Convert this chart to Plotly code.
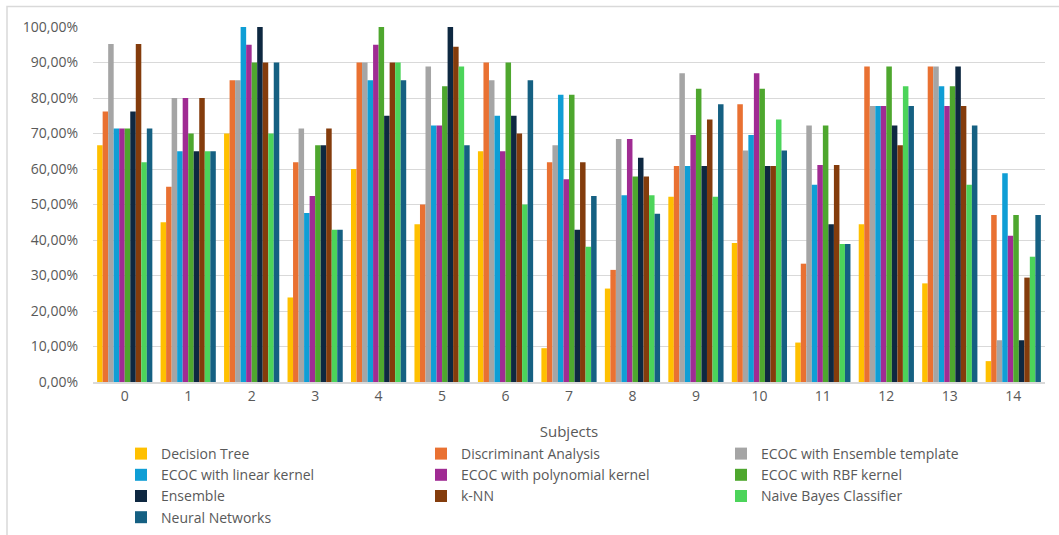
import plotly.graph_objects as go

subjects = [str(i) for i in range(15)]

decision_tree = [66.67, 45, 70, 23.81, 60, 44.44, 65, 9.52, 26.32, 52.17, 39.13, 11.11, 44.44, 27.78, 5.88]
discriminant = [76.19, 55, 85, 61.90, 90, 50, 90, 61.90, 31.58, 60.87, 78.26, 33.33, 88.89, 88.89, 47.06]
ecoc_ensemble = [95.24, 80, 85, 71.43, 90, 88.89, 85, 66.67, 68.42, 86.96, 65.22, 72.22, 77.78, 88.89, 11.76]
ecoc_linear = [71.43, 65, 100, 47.62, 85, 72.22, 75, 80.95, 52.63, 60.87, 69.57, 55.56, 77.78, 83.33, 58.82]
ecoc_poly = [71.43, 80, 95, 52.38, 95, 72.22, 65, 57.14, 68.42, 69.57, 86.96, 61.11, 77.78, 77.78, 41.18]
ecoc_rbf = [71.43, 70, 90, 66.67, 100, 83.33, 90, 80.95, 57.89, 82.61, 82.61, 72.22, 88.89, 83.33, 47.06]
ensemble = [76.19, 65, 100, 66.67, 75, 100, 75, 42.86, 63.16, 60.87, 60.87, 44.44, 72.22, 88.89, 11.76]
knn = [95.24, 80, 90, 71.43, 90, 94.44, 70, 61.90, 57.89, 73.91, 60.87, 61.11, 66.67, 77.78, 29.41]
naive_bayes = [61.90, 65, 70, 42.86, 90, 88.89, 50, 38.10, 52.63, 52.17, 73.91, 38.89, 83.33, 55.56, 35.29]
neural_nets = [71.43, 65, 90, 42.86, 85, 66.67, 85, 52.38, 47.37, 78.26, 65.22, 38.89, 77.78, 72.22, 47.06]

series_names = ["Decision Tree", "Discriminant Analysis", "ECOC with Ensemble template",
                "ECOC with linear kernel", "ECOC with polynomial kernel", "ECOC with RBF kernel",
                "Ensemble", "k-NN", "Naive Bayes Classifier", "Neural Networks"]
series_values = [decision_tree, discriminant, ecoc_ensemble, ecoc_linear, ecoc_poly,
                 ecoc_rbf, ensemble, knn, naive_bayes, neural_nets]
colors = ["#FFC000", "#E97132", "#A5A5A5", "#0F9ED5", "#A02B93",
          "#4EA72E", "#0E2841", "#843C0C", "#4CD45A", "#156082"]

y_tickvals = [0, 10, 20, 30, 40, 50, 60, 70, 80, 90, 100]
y_ticktext = ["0,00%", "10,00%", "20,00%", "30,00%", "40,00%", "50,00%",
              "60,00%", "70,00%", "80,00%", "90,00%", "100,00%"]

fig = go.Figure()
for name, vals, col in zip(series_names, series_values, colors):
    fig.add_trace(go.Bar(x=subjects, y=vals, name=name, marker_color=col,
                         marker_line_width=0))

W, H = 1059, 535
ml, mr, mt, mb = 93, 14, 27, 153
pw, ph = W - ml - mr, H - mt - mb

def px_x(X):
    return (X - ml) / pw

def px_y(Y):
    return (H - mb - Y) / ph

fig.update_layout(
    width=W, height=H,
    margin=dict(l=ml, r=mr, t=mt, b=mb, autoexpand=False),
    paper_bgcolor="white", plot_bgcolor="white",
    barmode="group", bargap=0.13, bargroupgap=0,
    font=dict(family="Open Sans, Lato, sans-serif", color="#595959", size=14),
    xaxis=dict(type="category", showgrid=False, showline=True, linecolor="#D9D9D9",
               linewidth=2, ticks="", tickfont=dict(size=14, color="#595959"),
               title=dict(text="Subjects", font=dict(size=15, color="#595959"), standoff=23)),
    yaxis=dict(range=[0, 100], tickvals=y_tickvals, ticktext=y_ticktext,
               showgrid=True, gridcolor="#D9D9D9", gridwidth=1, zeroline=False,
               showline=False, ticks="", ticklabelstandoff=14,
               tickfont=dict(size=14, color="#595959")),
    legend=dict(orientation="h", x=px_x(121), xanchor="left", y=px_y(438), yanchor="top",
                entrywidth=255, entrywidthmode="pixels", font=dict(size=14, color="#595959"),
                itemclick=False, tracegroupgap=0, traceorder="normal"),
    shapes=[dict(type="rect", xref="paper", yref="paper",
                 x0=px_x(7), x1=px_x(1070), y0=px_y(545), y1=px_y(6.5),
                 line=dict(color="#D9D9D9", width=1.5), fillcolor="rgba(0,0,0,0)", layer="below")],
)

fig.write_html("out.html")
